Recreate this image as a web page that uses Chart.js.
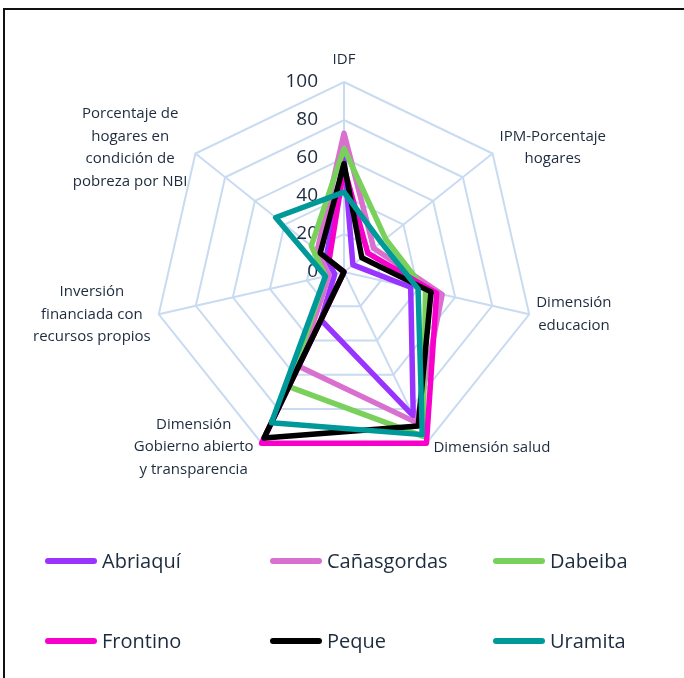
<!DOCTYPE html>
<html lang="es">
<head>
<meta charset="UTF-8">
<title>Radar municipios</title>
<script src="https://cdn.jsdelivr.net/npm/chart.js"></script>
<style>
  body { margin: 0; background: #fff; width: 684px; height: 678px; overflow: hidden; position: relative; font-family: "Open Sans", sans-serif; }
  .marco { position: absolute; left: 3px; top: 8px; width: 720px; height: 720px; border: 2px solid #111; box-sizing: border-box; }
  canvas { position: absolute; left: 0; top: 0; }
  .leyenda { position: absolute; left: 0; top: 0; }
  .item { position: absolute; display: flex; align-items: center; font-size: 20px; color: #1d2b3e; white-space: nowrap; }
  .item span.linea { display: inline-block; width: 52px; height: 6px; border-radius: 3px; margin-right: 5px; }
</style>
</head>
<body>
<div class="marco"></div>
<canvas id="radar" width="684" height="678"></canvas>
<div class="leyenda" id="leyenda"></div>

<script>
  // ejes del radar (en orden, empezando arriba y en sentido horario)
  const ejes = [
    ['IDF'],
    ['IPM-Porcentaje', 'hogares'],
    ['Dimensión', 'educacion'],
    ['Dimensión salud'],
    ['Dimensión', 'Gobierno abierto', 'y transparencia'],
    ['Inversión', 'financiada con', 'recursos propios'],
    ['Porcentaje de', 'hogares en', 'condición de', 'pobreza por NBI']
  ];

  const municipios = ['Abriaquí', 'Cañasgordas', 'Dabeiba', 'Frontino', 'Peque', 'Uramita'];
  const colores = ['#9933ff', '#d970cf', '#79d15c', '#f800cc', '#000000', '#00999a'];

  const abriaqui    = [60, 6, 36, 84, 28, 5, 12];
  const canasgordas = [73, 20, 53, 88, 55, 8, 18];
  const dabeiba     = [65, 28, 44, 96, 67, 10, 22];
  const frontino    = [55, 16, 50, 100, 100, 0, 10];
  const peque       = [57, 12, 47, 90, 97, 0, 16];
  const uramita     = [42, 25, 40, 95, 88, 10, 46];
  const valores = [abriaqui, canasgordas, dabeiba, frontino, peque, uramita];

  const ticks = [0, 20, 40, 60, 80, 100];

  const colorTexto = '#1d2b3e';

  // numeros del eje, a la izquierda de la linea vertical
  const etiquetasEje = {
    id: 'etiquetasEje',
    beforeDatasetsDraw(chart) {
      const r = chart.scales.r;
      const ctx = chart.ctx;
      ctx.save();
      ctx.font = '19px "Open Sans"';
      ctx.fillStyle = colorTexto;
      ctx.textAlign = 'right';
      ctx.textBaseline = 'middle';
      ticks.forEach(function (v) {
        const y = r.yCenter - r.getDistanceFromCenterForValue(v);
        ctx.fillText(String(v), r.xCenter - 26, y);
      });
      ctx.restore();
    }
  };

  // nombres de los ejes, texto centrado en bloque
  const nombresEjes = {
    id: 'nombresEjes',
    afterDraw(chart) {
      const r = chart.scales.r;
      const ctx = chart.ctx;
      const alto = 22.5;
      ctx.save();
      ctx.font = '15px "Open Sans"';
      ctx.fillStyle = colorTexto;
      ctx.textAlign = 'center';
      ctx.textBaseline = 'middle';
      ejes.forEach(function (lineas, i) {
        const p = r.getPointPosition(i, r.drawingArea);
        let ancho = 0;
        lineas.forEach(function (l) { ancho = Math.max(ancho, ctx.measureText(l).width); });
        let cx, cy;
        const bloque = lineas.length * alto;
        if (i === 0) {
          cx = p.x;
          cy = p.y - 22;
        } else if (p.x > r.xCenter) {
          cx = p.x + 7 + ancho / 2;
          cy = p.y < r.yCenter ? p.y - 6 : p.y + (i === 3 ? 5 : 0);
        } else {
          cx = p.x - 8 - ancho / 2;
          cy = p.y < r.yCenter ? p.y - 6 : p.y + (i === 4 ? 4 : 0);
        }
        lineas.forEach(function (l, k) {
          ctx.fillText(l, cx, cy - bloque / 2 + alto * (k + 0.5));
        });
      });
      ctx.restore();
    }
  };

  const datasets = municipios.map(function (nombre, i) {
    return {
      label: nombre,
      data: valores[i],
      borderColor: colores[i],
      backgroundColor: colores[i],
      borderWidth: 5.5,
      borderJoinStyle: 'round',
      pointRadius: 0,
      fill: false,
      order: municipios.length - i
    };
  });

  new Chart(document.getElementById('radar'), {
    type: 'radar',
    data: {
      labels: ejes.map(function (e) { return e.join(' '); }),
      datasets: datasets
    },
    options: {
      responsive: false,
      animation: false,
      layout: { padding: { left: 154, top: 82, right: 150, bottom: 216 } },
      plugins: {
        legend: { display: false },
        tooltip: { enabled: false }
      },
      scales: {
        r: {
          min: 0,
          max: 100,
          ticks: { display: false, stepSize: 20 },
          pointLabels: { display: false },
          grid: { color: '#c8dbf1', lineWidth: 2 },
          angleLines: { color: '#c8dbf1', lineWidth: 2 }
        }
      }
    },
    plugins: [etiquetasEje, nombresEjes]
  });

  // leyenda en dos filas de tres
  const leyenda = document.getElementById('leyenda');
  const colX = [45, 270, 493];
  const filaY = [561, 641];
  municipios.forEach(function (nombre, i) {
    const div = document.createElement('div');
    div.className = 'item';
    div.style.left = colX[i % 3] + 'px';
    div.style.top = (filaY[Math.floor(i / 3)] - 14) + 'px';
    div.innerHTML = '<span class="linea" style="background:' + colores[i] + '"></span>' + nombre;
    leyenda.appendChild(div);
  });
</script>
</body>
</html>
